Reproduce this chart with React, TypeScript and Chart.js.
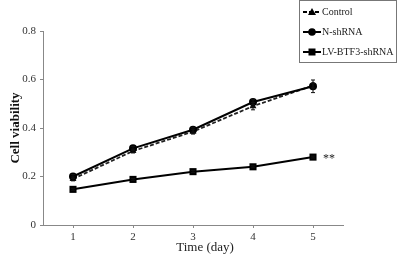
import React, { useEffect, useRef } from "react";
import { Chart, registerables } from "chart.js";

Chart.register(...registerables);

const days = ["1", "2", "3", "4", "5"];
const controlValues = [0.19, 0.305, 0.385, 0.49, 0.575];
const controlErr = [0.008, 0.008, 0.01, 0.015, 0.01];
const nshValues = [0.2, 0.316, 0.393, 0.507, 0.572];
const nshErr = [0.008, 0.008, 0.01, 0.01, 0.026];
const lvValues = [0.147, 0.188, 0.22, 0.24, 0.28];
const lvErr = [0.004, 0.004, 0.004, 0.004, 0.004];
const seriesNames = ["Control", "N-shRNA", "LV-BTF3-shRNA"];
const yTicks = [0, 0.2, 0.4, 0.6, 0.8];
const xTitle = "Time (day)";
const yTitle = "Cell viability";

const FONT = "'Liberation Serif', 'DejaVu Serif', serif";

const errorBarPlugin = {
  id: "errorBars",
  afterDatasetsDraw(chart: any) {
    const ctx = chart.ctx;
    const errs = [controlErr, nshErr, lvErr];
    ctx.save();
    ctx.strokeStyle = "#111";
    ctx.lineWidth = 1;
    chart.data.datasets.forEach((ds: any, i: number) => {
      const meta = chart.getDatasetMeta(i);
      const yScale = chart.scales.y;
      meta.data.forEach((pt: any, j: number) => {
        const v = ds.data[j];
        const e = errs[i][j];
        const yTop = yScale.getPixelForValue(v + e);
        const yBot = yScale.getPixelForValue(v - e);
        ctx.beginPath();
        ctx.moveTo(pt.x, yTop);
        ctx.lineTo(pt.x, yBot);
        ctx.moveTo(pt.x - 2, yTop);
        ctx.lineTo(pt.x + 2, yTop);
        ctx.moveTo(pt.x - 2, yBot);
        ctx.lineTo(pt.x + 2, yBot);
        ctx.stroke();
      });
    });
    const lvMeta = chart.getDatasetMeta(2);
    const last = lvMeta.data[lvMeta.data.length - 1];
    ctx.fillStyle = "#222";
    ctx.font = `12px ${FONT}`;
    ctx.textBaseline = "middle";
    ctx.textAlign = "left";
    ctx.fillText("**", last.x + 10, last.y + 2);
    // x axis title, slightly right of centre as in the original figure
    const ca = chart.chartArea;
    ctx.fillStyle = "#222";
    ctx.font = `13px ${FONT}`;
    ctx.textAlign = "center";
    ctx.textBaseline = "middle";
    ctx.fillText(xTitle, (ca.left + ca.right) / 2 + 12, 248);
    ctx.restore();
  },
};

const legendPlugin = {
  id: "boxLegend",
  afterDraw(chart: any) {
    const ctx = chart.ctx;
    ctx.save();
    ctx.strokeStyle = "#777";
    ctx.lineWidth = 1;
    ctx.strokeRect(299.5, 0.5, 97, 62);
    const rows = [12, 32, 52];
    chart.data.datasets.forEach((ds: any, i: number) => {
      const y = rows[i];
      ctx.strokeStyle = "#000";
      ctx.lineWidth = 2;
      ctx.setLineDash(ds.borderDash || []);
      ctx.beginPath();
      ctx.moveTo(303, y);
      ctx.lineTo(321, y);
      ctx.stroke();
      ctx.setLineDash([]);
      ctx.fillStyle = "#000";
      const cx = 312;
      ctx.beginPath();
      if (ds.pointStyle === "triangle") {
        ctx.moveTo(cx, y - 4);
        ctx.lineTo(cx + 4, y + 3);
        ctx.lineTo(cx - 4, y + 3);
        ctx.closePath();
      } else if (ds.pointStyle === "rect") {
        ctx.rect(cx - 3.5, y - 3.5, 7, 7);
      } else {
        ctx.arc(cx, y, 3.8, 0, Math.PI * 2);
      }
      ctx.fill();
      ctx.fillStyle = "#222";
      ctx.font = `10px ${FONT}`;
      ctx.textBaseline = "middle";
      ctx.textAlign = "left";
      ctx.fillText(seriesNames[i], 322, y + 0.5);
    });
    ctx.restore();
  },
};

export default function App() {
  const ref = useRef<HTMLCanvasElement>(null);
  useEffect(() => {
    if (!ref.current) return;
    const chart = new Chart(ref.current, {
      type: "line",
      data: {
        labels: days,
        datasets: [
          {
            label: seriesNames[0],
            data: controlValues,
            borderColor: "#222",
            backgroundColor: "#111",
            borderWidth: 1.8,
            borderDash: [4, 2],
            pointStyle: "triangle",
            pointRadius: 4,
            pointBorderWidth: 0,
            order: 2,
          },
          {
            label: seriesNames[1],
            data: nshValues,
            borderColor: "#000",
            backgroundColor: "#000",
            borderWidth: 2,
            pointStyle: "circle",
            pointRadius: 4,
            pointBorderWidth: 0,
            order: 1,
          },
          {
            label: seriesNames[2],
            data: lvValues,
            borderColor: "#000",
            backgroundColor: "#000",
            borderWidth: 2,
            pointStyle: "rect",
            pointRadius: 5,
            pointBorderWidth: 0,
            order: 0,
          },
        ],
      },
      plugins: [errorBarPlugin, legendPlugin],
      options: {
        animation: false,
        responsive: false,
        devicePixelRatio: 1,
        layout: { padding: { top: 31, right: 55, left: 0, bottom: 0 } },
        plugins: { legend: { display: false }, tooltip: { enabled: false } },
        scales: {
          x: {
            type: "category",
            offset: true,
            grid: {
              offset: false,
              drawOnChartArea: false,
              drawTicks: true,
              tickLength: 3,
              color: "#888",
            },
            border: { color: "#888", width: 1 },
            ticks: {
              color: "#333",
              font: { family: FONT, size: 11 },
              padding: 3,
              maxRotation: 0,
            },
            title: { display: false, text: xTitle },
            afterFit: (s: any) => {
              s.height = 31;
            },
          },
          y: {
            min: 0,
            max: 0.8,
            afterBuildTicks: (s: any) => {
              s.ticks = yTicks.map((v) => ({ value: v }));
            },
            grid: {
              drawOnChartArea: false,
              drawTicks: true,
              tickLength: 3,
              color: "#888",
            },
            border: { color: "#888", width: 1 },
            ticks: {
              color: "#333",
              font: { family: FONT, size: 11 },
              padding: 4,
            },
            title: {
              display: true,
              text: yTitle,
              color: "#111",
              font: { family: FONT, size: 13, weight: "bold" },
              padding: { top: 8, bottom: 0 },
            },
            afterFit: (s: any) => {
              s.width = 43;
            },
          },
        },
      },
    });
    return () => chart.destroy();
  }, []);
  return (
    <div style={{ position: "absolute", left: 0, top: 0, width: 398, height: 256, background: "#fff" }}>
      <canvas ref={ref} width={398} height={256} />
    </div>
  );
}
